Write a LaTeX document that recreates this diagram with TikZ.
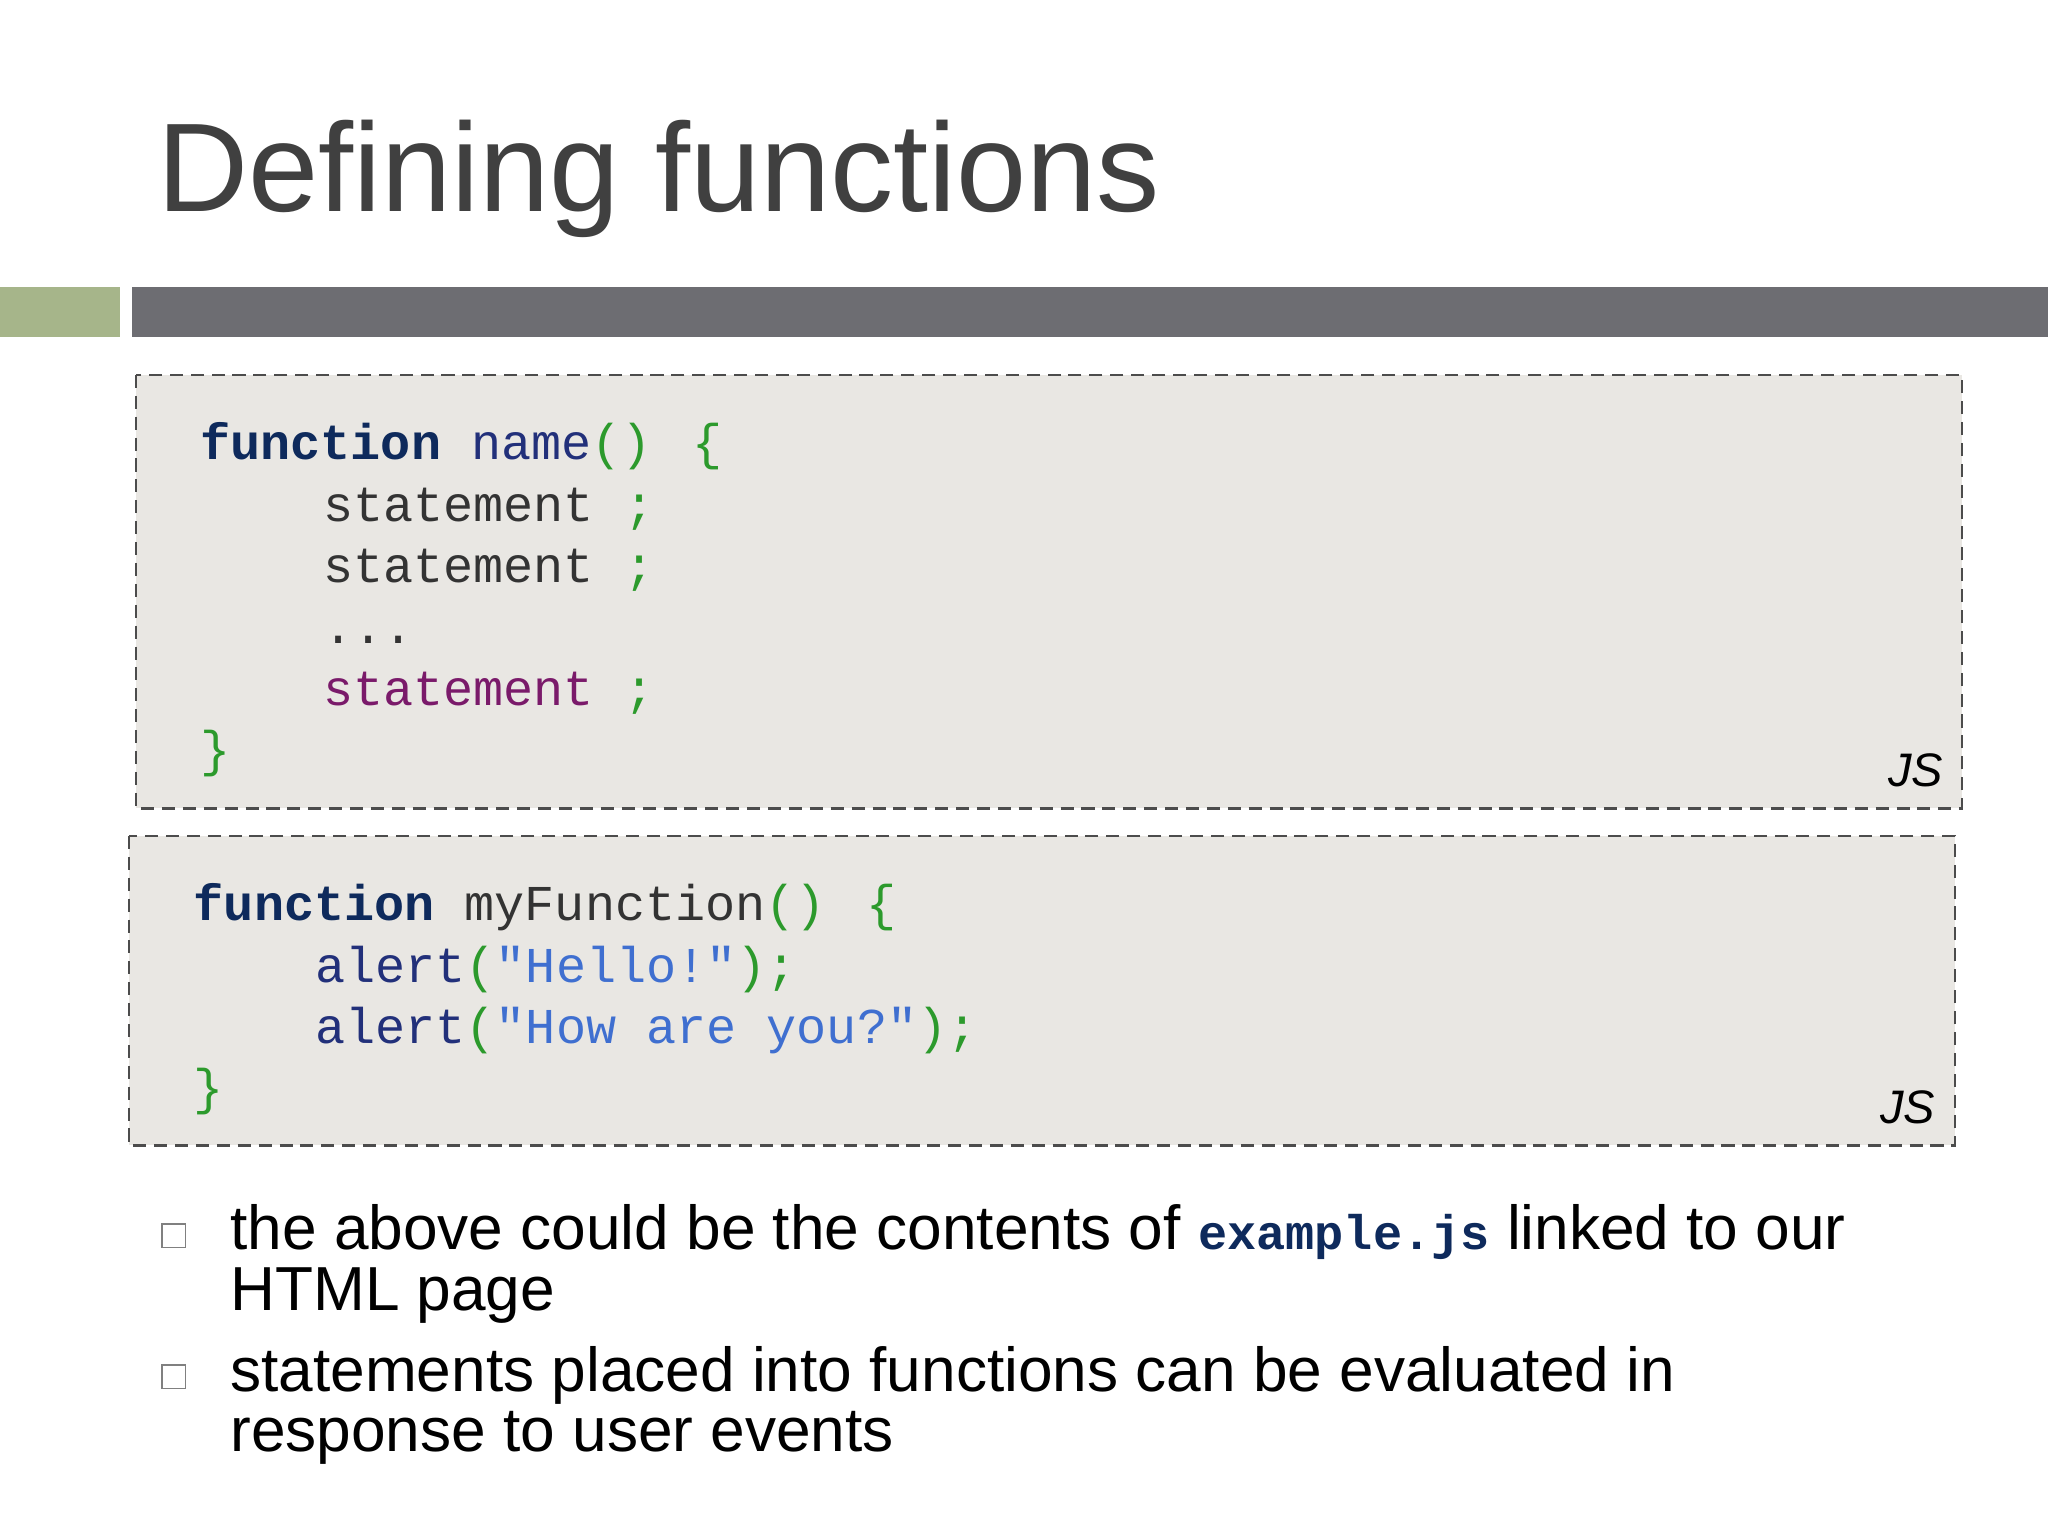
\documentclass[tikz,border=0pt]{standalone}
\usepackage{fontspec}
\setmainfont{Liberation Sans}
\setmonofont{Liberation Mono}
\definecolor{barG}{HTML}{A6B58A}
\definecolor{barD}{HTML}{6D6D72}
\definecolor{boxF}{HTML}{E9E7E3}
\definecolor{kw}{HTML}{0E2A5C}
\definecolor{nm}{HTML}{22307A}
\definecolor{gr}{HTML}{2C9A2C}
\definecolor{tx}{HTML}{333333}
\definecolor{pu}{HTML}{7A1A6A}
\definecolor{st}{HTML}{3F6FD0}
\definecolor{ttl}{HTML}{404040}
\tikzset{
 codebox/.style={draw=black!70,fill=boxF,dashed,dash pattern=on 5pt off 3pt,line width=0.8pt},
 code/.style={anchor=base west,inner sep=0pt,font=\fontsize{19.2}{23}\selectfont\ttfamily},
 bul/.style={anchor=base west,inner sep=0pt,font=\fontsize{23.8}{23.5}\selectfont,text=black},
 jsl/.style={anchor=base east,inner sep=0pt,font=\fontsize{18}{20}\selectfont\itshape},
 sq/.style={draw=black!50,line width=0.6pt,minimum size=9pt,inner sep=0pt}
}
\begin{document}
\begin{tikzpicture}[x=0.5pt,y=-0.5pt]
\useasboundingbox (0,0) rectangle (1568,1176);
\fill[white] (0,0) rectangle (1568,1176);
\node[anchor=base west,inner sep=0pt,text=ttl,font=\fontsize{48.3}{50}\selectfont] (title) at (120,162) {Defining functions};
\fill[barG] (0,220) rectangle (92,258);
\fill[barD] (101,220) rectangle (1568,258);
\draw[codebox] (104,287) rectangle (1502,619);
\draw[codebox] (99,640) rectangle (1497,877);
% box 1
\node[code] (l1) at (153,352) {\textcolor{kw}{\textbf{function}}\ \textcolor{nm}{name}\textcolor{gr}{()\ \hspace{4pt}\{}};
\node[code,text=tx] (l2) at (247,399) {statement\ \textcolor{gr}{;}};
\node[code,text=tx] (l3) at (247,446) {statement\ \textcolor{gr}{;}};
\node[code,text=tx] (l4) at (247,493) {...};
\node[code,text=pu] (l5) at (247,540) {statement\ \textcolor{gr}{;}};
\node[code,text=gr] (l6) at (153,587) {\}};
\node[jsl] (js1) at (1488,602) {JS};
% box 2
\node[code] (m1) at (148,705) {\textcolor{kw}{\textbf{function}}\ \textcolor{tx}{myFunction}\textcolor{gr}{()\ \hspace{4pt}\{}};
\node[code,text=nm] (m2) at (241,752) {alert\textcolor{gr}{(}\textcolor{st}{"Hello!"}\textcolor{gr}{);}};
\node[code,text=nm] (m3) at (241,799) {alert\textcolor{gr}{(}\textcolor{st}{"How\ are\ you?"}\textcolor{gr}{);}};
\node[code,text=gr] (m4) at (148,846) {\}};
\node[jsl] (js2) at (1482,860) {JS};
% bullets
\node[sq] (s1) at (133,946) {};
\node[bul] (b1) at (176,957) {the above could be the contents of \textcolor{kw}{\fontsize{18.6}{20}\selectfont\ttfamily\bfseries example.js} linked to our};
\node[bul] (b1b) at (176,1003) {HTML page};
\node[sq] (s2) at (133,1054) {};
\node[bul] (b2) at (176,1065) {statements placed into functions can be evaluated in};
\node[bul] (b2b) at (176,1111) {response to user events};
\end{tikzpicture}
\end{document}
